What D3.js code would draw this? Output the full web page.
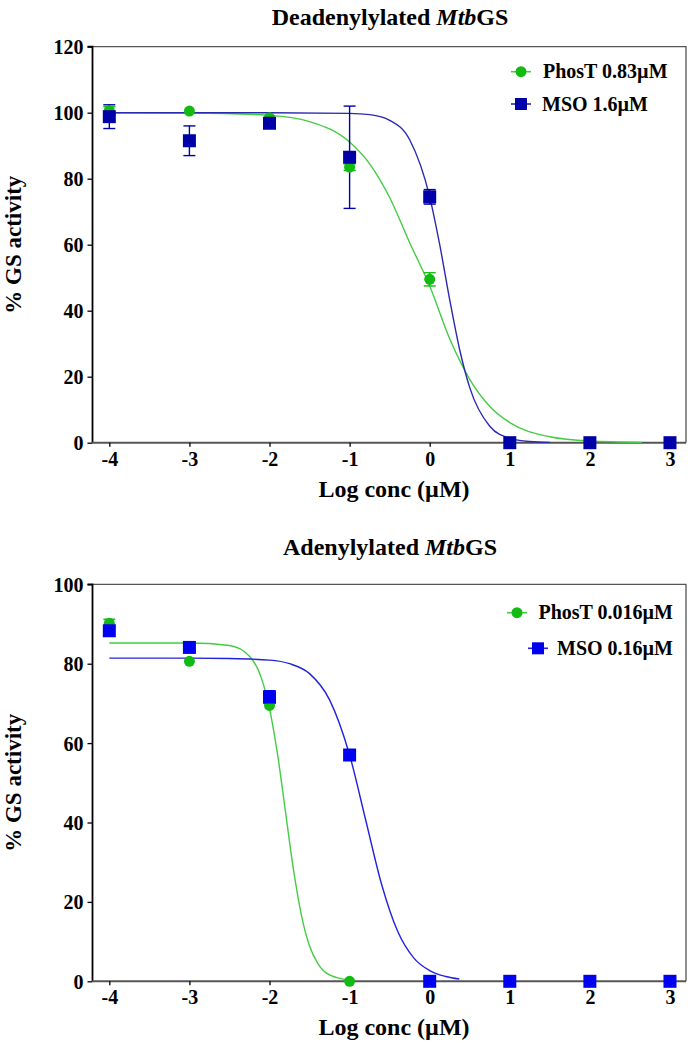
<!DOCTYPE html>
<html><head><meta charset="utf-8">
<script src="https://cdn.jsdelivr.net/npm/d3@7/dist/d3.min.js"></script>
<style>body{margin:0;background:#fff}svg{display:block}text{font-family:"Liberation Serif","Times New Roman",serif;font-weight:bold;fill:#000}</style>
</head><body>
<script>
// ---------- data ----------
const logConc = [-4, -3, -2, -1, 0, 1, 2, 3];
const xTicks = [-4, -3, -2, -1, 0, 1, 2, 3];

// Panel A: Deadenylylated MtbGS
const aPhosT = [100.6, 100.5, 98.5, 83.5, 49.5, 0, 0, 0];
const aPhosTErr = [1.2, 0.6, 0.8, 1.0, 2.0, 0, 0, 0];
const aMSO = [98.8, 91.5, 96.8, 86.5, 74.5, 0, 0, 0];
const aMSOErr = [3.6, 4.5, 0.8, 15.5, 2.2, 0, 0, 0];
const aPhosTFitX = [-4, -3, -2, -1.5, -1, -0.75, -0.5, -0.25, 0, 0.25, 0.5, 0.75, 1, 1.5, 2, 2.65];
const aPhosTFitY = [100, 99.9, 99.2, 97.3, 91.1, 84.5, 74.3, 60.6, 47.5, 31.5, 19.2, 11.0, 6.1, 1.8, 0.5, 0.1];
const aMSOFitX = [-4, -2, -1, -0.75, -0.5, -0.25, 0, 0.125, 0.25, 0.375, 0.5, 0.75, 1, 1.25, 1.5];
const aMSOFitY = [100, 100, 99.8, 99.4, 97.7, 91.8, 74.5, 60, 43.3, 28.1, 16.7, 5.0, 1.3, 0.35, 0.1];
const aYTicks = [0, 20, 40, 60, 80, 100, 120];

// Panel B: Adenylylated MtbGS
const bPhosTX = [-4, -3, -2, -1];
const bPhosT = [90.2, 80.6, 69.5, 0];
const bPhosTErr = [1.0, 0.5, 0.8, 0];
const bMSO = [88.3, 84.1, 71.6, 57.0, 0, 0, 0, 0];
const bMSOErr = [0.8, 1.0, 1.6, 0.5, 0, 0, 0, 0];
const bPhosTFitX = [-4, -3, -2.5, -2.25, -2.1, -2, -1.9, -1.8, -1.7, -1.6, -1.5, -1.4, -1.25, -1];
const bPhosTFitY = [85.2, 85.2, 84.6, 81.9, 76.3, 68.7, 57.2, 42.6, 28, 16.5, 8.9, 4.6, 1.6, 0.3];
const bMSOFitX = [-4, -3, -2.5, -2, -1.75, -1.5, -1.25, -1, -0.8, -0.6, -0.4, -0.2, 0, 0.2, 0.37];
const bMSOFitY = [81.4, 81.4, 81.3, 80.9, 80.0, 77.5, 70.9, 57, 40.7, 24.4, 12.6, 5.9, 2.7, 1.2, 0.57];
const bYTicks = [0, 20, 40, 60, 80, 100];

const titles = ["Deadenylylated ", "Adenylylated "];
const xTitle = "Log conc (\u00b5M)";
const yTitle = "% GS activity";
const aLegend = ["PhosT 0.83\u00b5M", "MSO 1.6\u00b5M"];
const bLegend = ["PhosT 0.016\u00b5M", "MSO 0.16\u00b5M"];

// ---------- drawing ----------
const W = 688, H = 1044;
const svg = d3.select("body").append("svg").attr("width", W).attr("height", H);

function panel(o) {
  const g = svg.append("g");
  const x = d3.scaleLinear().domain([-4.21, 3.2]).range([92.5, 686]);
  const y = d3.scaleLinear().domain(o.yDomain).range([o.bottom, o.top]);
  // frame (top and right)
  g.append("path").attr("d", `M${x.range()[0]},${o.top}H${x.range()[1]}V${o.bottom}`)
    .attr("fill", "none").attr("stroke", "#555").attr("stroke-width", 1.3);
  // axes
  const ya = g.append("g").attr("transform", `translate(${x.range()[0]},0)`)
    .call(d3.axisLeft(y).tickValues(o.yTicks).tickSize(5).tickPadding(4).tickFormat(d => String(d)));
  const xa = g.append("g").attr("transform", `translate(0,${o.bottom})`)
    .call(d3.axisBottom(x).tickValues(xTicks).tickSize(4).tickPadding(5).tickSizeOuter(0).tickFormat(d => String(d)));
  [ya, xa].forEach(a => {
    a.selectAll("text").style("font-size", "20px").style("font-weight", "bold").attr("fill", "#000");
    a.select(".domain").attr("stroke", "#000").attr("stroke-width", 1.8);
    a.selectAll(".tick line").attr("stroke", "#000").attr("stroke-width", 1.3);
  });
  ya.select(".domain").attr("d", `M-5,${y.range()[1]}H0V${y.range()[0]}`);
  xa.select(".domain").attr("d", `M${x.range()[0]},0H${x.range()[1]}`).attr("stroke", "#555").attr("stroke-width", 2);
  ya.selectAll(".tick text").attr("dy", "0.35em");

  // titles
  const t = g.append("text").attr("x", 390).attr("y", o.titleY).attr("text-anchor", "middle")
    .style("font-size", "24px");
  t.append("tspan").text(o.title);
  t.append("tspan").style("font-style", "italic").text("Mtb");
  t.append("tspan").text("GS");
  g.append("text").attr("x", 394).attr("y", o.bottom + 54).attr("text-anchor", "middle")
    .style("font-size", "24px").text(xTitle);
  g.append("text").attr("transform", `translate(21,${(o.top + o.bottom) / 2}) rotate(-90)`)
    .attr("text-anchor", "middle").style("font-size", "23px").text(yTitle);

  const line = d3.line().x(d => x(d[0])).y(d => y(d[1])).curve(d3.curveMonotoneX);
  // fits
  g.append("path").datum(d3.zip(o.gFitX, o.gFitY)).attr("d", line)
    .attr("fill", "none").attr("stroke", o.gLine).attr("stroke-width", 1.4);
  g.append("path").datum(d3.zip(o.bFitX, o.bFitY)).attr("d", line)
    .attr("fill", "none").attr("stroke", o.bLine).attr("stroke-width", 1.4);

  // error bars
  function errs(xs, ys, es, col) {
    const d = d3.zip(xs, ys, es).filter(v => v[2] > 0.9);
    const eg = g.append("g").attr("stroke", col).attr("stroke-width", 1.4);
    d.forEach(v => {
      eg.append("line").attr("x1", x(v[0])).attr("x2", x(v[0])).attr("y1", y(v[1] - v[2])).attr("y2", y(v[1] + v[2]));
      [v[1] - v[2], v[1] + v[2]].forEach(yy => eg.append("line").attr("x1", x(v[0]) - 6).attr("x2", x(v[0]) + 6).attr("y1", y(yy)).attr("y2", y(yy)));
    });
  }
  errs(o.gX, o.gY, o.gE, o.gMark);
  errs(o.bX, o.bY, o.bE, o.bMark);
  // markers
  g.append("g").selectAll("circle").data(d3.zip(o.gX, o.gY)).join("circle")
    .attr("cx", d => x(d[0])).attr("cy", d => y(d[1])).attr("r", 5.5).attr("fill", o.gMark);
  g.append("g").selectAll("rect").data(d3.zip(o.bX, o.bY)).join("rect")
    .attr("x", d => x(d[0]) - 6.5).attr("y", d => y(d[1]) - 6.5).attr("width", 13).attr("height", 13).attr("fill", o.bMark);

  // legend
  o.legend.forEach((lab, i) => {
    const L = o.legPos[i];
    const col = i === 0 ? o.gMark : o.bMark;
    const lcol = i === 0 ? o.gLine : o.bLine;
    g.append("line").attr("x1", L.mx - 10).attr("x2", L.mx + 10).attr("y1", L.y).attr("y2", L.y)
      .attr("stroke", lcol).attr("stroke-width", 1.6);
    if (i === 0) g.append("circle").attr("cx", L.mx).attr("cy", L.y).attr("r", 5.5).attr("fill", col);
    else g.append("rect").attr("x", L.mx - 6).attr("y", L.y - 6).attr("width", 12).attr("height", 12).attr("fill", col);
    g.append("text").attr("x", L.tx).attr("y", L.y + 6.5).attr("text-anchor", L.anchor)
      .style("font-size", "20px").text(lab);
  });
}

panel({
  top: 46.7, bottom: 442.7, yDomain: [0, 120], yTicks: aYTicks, titleY: 25, title: titles[0],
  gX: logConc, gY: aPhosT, gE: aPhosTErr, bX: logConc, bY: aMSO, bE: aMSOErr,
  gFitX: aPhosTFitX, gFitY: aPhosTFitY, bFitX: aMSOFitX, bFitY: aMSOFitY,
  gMark: "#11bb11", gLine: "#44cc44", bMark: "#0000a8", bLine: "#2a2ab0",
  legend: aLegend,
  legPos: [{mx: 521, y: 71.7, tx: 543, anchor: "start"}, {mx: 521, y: 104, tx: 542, anchor: "start"}]
});
panel({
  top: 584.3, bottom: 981.3, yDomain: [0, 100], yTicks: bYTicks, titleY: 555, title: titles[1],
  gX: bPhosTX, gY: bPhosT, gE: bPhosTErr, bX: logConc, bY: bMSO, bE: bMSOErr,
  gFitX: bPhosTFitX, gFitY: bPhosTFitY, bFitX: bMSOFitX, bFitY: bMSOFitY,
  gMark: "#11bb11", gLine: "#44cc44", bMark: "#0000f0", bLine: "#2222dd",
  legend: bLegend,
  legPos: [{mx: 517, y: 612.7, tx: 673, anchor: "end"}, {mx: 538, y: 648.3, tx: 673, anchor: "end"}]
});
</script>
</body></html>
